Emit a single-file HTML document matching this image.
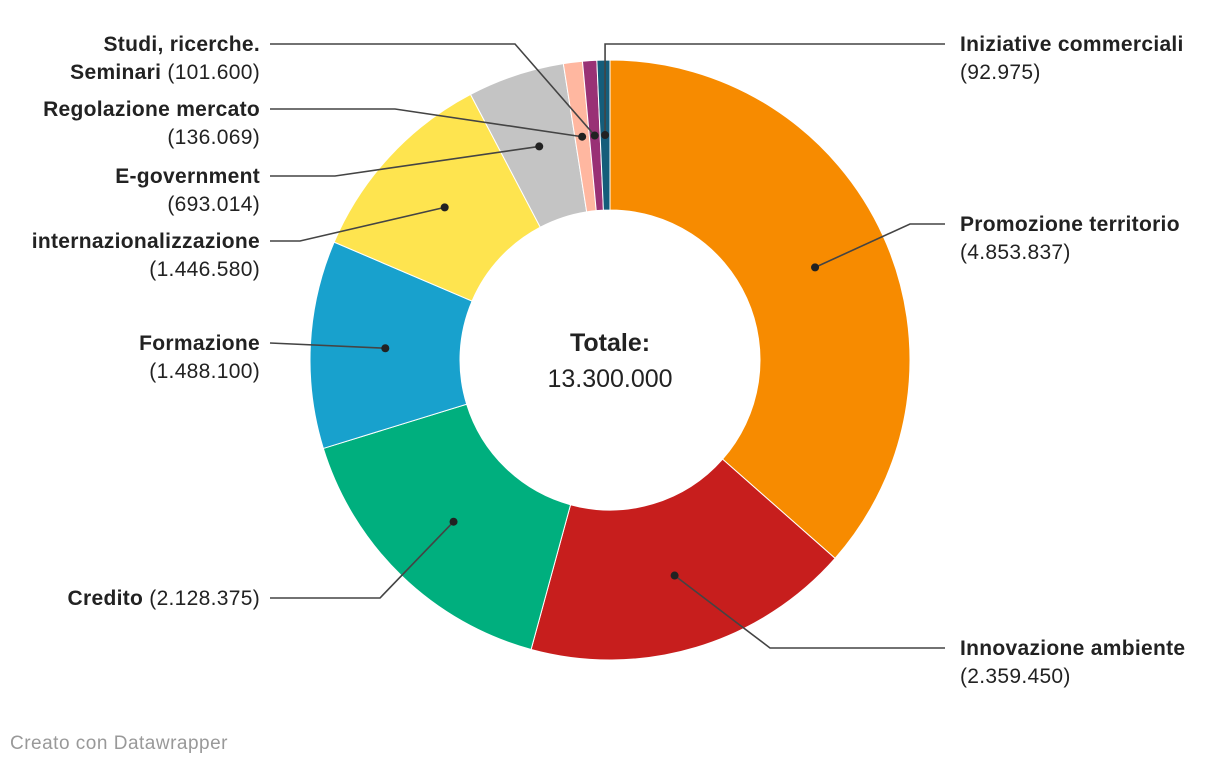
<!DOCTYPE html>
<html><head><meta charset="utf-8"><style>
body{margin:0;background:#fff;width:1220px;height:766px;overflow:hidden;font-family:"Liberation Sans",sans-serif;}
svg text{font-family:"Liberation Sans",sans-serif;}
</style></head><body>
<svg id="chart" width="1220" height="766" viewBox="0 0 1220 766"></svg>
<script>
const categories=["Promozione territorio","Innovazione ambiente","Credito","Formazione","internazionalizzazione","E-government","Regolazione mercato","Studi, ricerche. Seminari","Iniziative commerciali"];
const values=[4853837,2359450,2128375,1488100,1446580,693014,136069,101600,92975];
const valueLabels=["4.853.837","2.359.450","2.128.375","1.488.100","1.446.580","693.014","136.069","101.600","92.975"];
const colors=["#f78b00","#c71e1d","#00af7e","#18a1cd","#fee44f","#c4c4c4","#ffb7a0","#993175","#155d7a"];
const totalLabel="13.300.000";
const labelLayout=[
 {side:"r",y:224,elbow:[910,224],lines:[["Promozione territorio",""],["","(4.853.837)"]]},
 {side:"r",y:648,elbow:[770,648],lines:[["Innovazione ambiente",""],["","(2.359.450)"]]},
 {side:"l",y:598,elbow:[380,598],lines:[["Credito"," (2.128.375)"]]},
 {side:"l",y:343,elbow:null,lines:[["Formazione",""],["","(1.488.100)"]]},
 {side:"l",y:241,elbow:[300,241],lines:[["internazionalizzazione",""],["","(1.446.580)"]]},
 {side:"l",y:176,elbow:[335,176],lines:[["E-government",""],["","(693.014)"]]},
 {side:"l",y:109,elbow:[395,109],lines:[["Regolazione mercato",""],["","(136.069)"]]},
 {side:"l",y:44,elbow:[515,44],lines:[["Studi, ricerche.",""],["Seminari"," (101.600)"]]},
 {side:"r",y:44,elbow:null,vert:true,lines:[["Iniziative commerciali",""],["","(92.975)"]]}
];
const NS="http://www.w3.org/2000/svg";
const svg=document.getElementById("chart");
const cx=610,cy=360,R=300,r=150,rd=225;
const total=values.reduce((a,b)=>a+b,0);
function mk(t,a){const e=document.createElementNS(NS,t);for(const k in a)e.setAttribute(k,a[k]);return e;}
function pt(rad,ang){return [cx+rad*Math.sin(ang),cy-rad*Math.cos(ang)];}
let acc=0;
values.forEach((v,i)=>{
 const a0=acc/total*2*Math.PI;acc+=v;const a1=acc/total*2*Math.PI;
 const lg=(a1-a0)>Math.PI?1:0;
 const p0=pt(R,a0),p1=pt(R,a1),q1=pt(r,a1),q0=pt(r,a0);
 const d=`M${p0[0]},${p0[1]}A${R},${R} 0 ${lg} 1 ${p1[0]},${p1[1]}L${q1[0]},${q1[1]}A${r},${r} 0 ${lg} 0 ${q0[0]},${q0[1]}Z`;
 const p=mk("path",{d:d,fill:colors[i],stroke:"#fff","stroke-width":1});
 
 
 svg.appendChild(p);
});
acc=0;
values.forEach((v,i)=>{
 const am=(acc+v/2)/total*2*Math.PI;acc+=v;
 const dp=pt(rd,am);const L=labelLayout[i];
 const endX=L.side==="r"?945:270;
 let pts=[dp];
 if(L.vert){pts.push([dp[0],L.y]);}else if(L.elbow)pts.push(L.elbow);
 pts.push([endX,L.y]);
 const line=mk("polyline",{points:pts.map(p=>p.join(",")).join(" "),fill:"none",stroke:"#444","stroke-width":1.6});
 
 
 svg.appendChild(line);
 const dot=mk("circle",{cx:dp[0],cy:dp[1],r:4,fill:"#222"});
 
 
 svg.appendChild(dot);
 const tx=L.side==="r"?960:260;
 L.lines.forEach((ln,j)=>{
  const t=mk("text",{x:tx,y:L.y+7+j*28,"font-size":21,"letter-spacing":0.3,fill:"#222","text-anchor":L.side==="r"?"start":"end"});
  
  
  if(ln[0]){const b=mk("tspan",{"font-weight":"bold"});b.textContent=ln[0];t.appendChild(b);}
  if(ln[1]){const n=mk("tspan",{});n.textContent=ln[1];t.appendChild(n);}
  svg.appendChild(t);
 });
});
const t1=mk("text",{x:cx,y:351,"font-size":25,"font-weight":"bold",fill:"#222","text-anchor":"middle"});
t1.textContent="Totale:";


svg.appendChild(t1);
const t2=mk("text",{x:cx,y:387,"font-size":25,fill:"#222","text-anchor":"middle"});
t2.textContent=totalLabel;


svg.appendChild(t2);
const f=mk("text",{x:10,y:749,"font-size":19,"letter-spacing":0.5,fill:"#999"});
f.textContent="Creato con Datawrapper";


svg.appendChild(f);
</script>
</body></html>
